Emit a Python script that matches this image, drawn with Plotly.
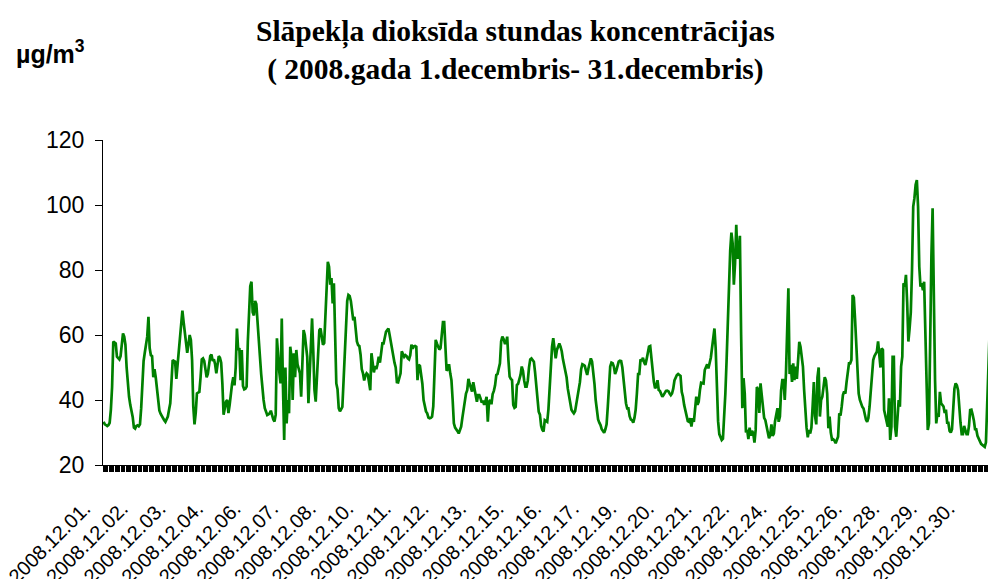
import plotly.graph_objects as go

# hourly NO2 concentrations, µg/m3 (one list per day)
dec01 = [33.3, 32.5, 32.3, 32.0, 32.3, 33.0, 37.0, 44.0, 58.0, 57.8, 57.4, 53.3, 52.8, 52.5, 53.5, 57.5, 60.5, 59.5, 57.0, 50.0, 45.0, 41.0, 38.5, 36.5]
dec02 = [34.8, 31.5, 31.2, 32.0, 32.2, 31.9, 32.5, 37.5, 45.0, 52.0, 54.6, 56.5, 59.5, 65.6, 56.0, 53.8, 53.5, 47.0, 49.5, 47.0, 43.5, 40.0, 36.8, 35.8]
dec03 = [35.0, 34.4, 33.8, 33.3, 34.0, 34.9, 37.0, 39.0, 45.5, 52.3, 52.0, 51.8, 46.5, 50.5, 54.8, 59.5, 64.5, 67.5, 64.0, 60.5, 58.0, 54.5, 57.0, 60.0]
dec04 = [58.5, 52.3, 38.0, 32.5, 36.0, 42.0, 42.3, 42.5, 47.0, 52.5, 52.8, 52.0, 49.5, 47.0, 48.0, 50.5, 53.5, 54.0, 52.0, 52.5, 51.0, 48.2, 50.5, 53.5]
dec05 = [53.0, 51.5, 45.0, 35.5, 37.5, 39.5, 40.0, 36.0, 38.5, 42.5, 45.0, 47.0, 44.5, 50.0, 62.0, 55.5, 56.0, 46.1, 55.4, 44.3, 43.3, 43.5, 44.1, 58.0]
dec06 = [68.0, 75.0, 76.4, 67.0, 66.0, 70.5, 69.5, 65.0, 59.0, 53.3, 48.0, 43.0, 40.0, 37.5, 36.5, 35.4, 35.6, 35.9, 36.7, 35.0, 34.0, 33.4, 35.5, 59.0]
dec07 = [53.0, 48.5, 45.1, 65.1, 44.1, 27.7, 50.0, 32.8, 40.0, 35.9, 56.4, 53.3, 40.0, 54.4, 47.0, 55.4, 51.0, 49.5, 48.2, 41.0, 54.4, 61.5, 60.0, 57.0]
dec08 = [53.3, 39.0, 47.5, 56.0, 65.1, 55.0, 43.0, 39.5, 48.2, 55.0, 61.5, 62.0, 60.0, 57.0, 57.5, 65.0, 76.0, 82.5, 81.0, 75.5, 77.5, 69.7, 75.9, 61.5]
dec09 = [45.1, 43.3, 37.5, 36.5, 37.4, 37.9, 46.0, 53.5, 65.0, 70.5, 72.3, 72.0, 70.5, 68.0, 64.5, 65.6, 62.0, 58.0, 56.9, 56.6, 54.0, 49.5, 48.2, 46.0]
dec10 = [47.5, 48.2, 47.8, 45.5, 43.0, 54.4, 51.0, 48.5, 50.5, 49.5, 51.0, 53.3, 51.5, 54.5, 57.4, 57.4, 59.5, 61.0, 61.5, 62.0, 60.0, 57.5, 55.4, 52.5]
dec11 = [51.5, 50.0, 45.5, 45.4, 46.5, 48.2, 55.0, 54.0, 53.3, 53.8, 53.5, 52.8, 52.5, 53.8, 57.0, 55.8, 56.5, 56.6, 56.4, 46.1, 50.8, 50.5, 48.0, 45.0]
dec12 = [40.0, 37.5, 36.5, 35.9, 34.6, 34.4, 34.5, 34.9, 38.0, 48.2, 58.5, 57.4, 56.5, 55.5, 56.0, 60.0, 64.0, 64.0, 58.0, 49.0, 49.5, 51.0, 48.2, 46.1]
dec13 = [40.0, 32.8, 31.5, 30.7, 30.4, 29.7, 30.8, 31.8, 34.5, 37.5, 40.0, 42.0, 43.0, 46.5, 45.0, 43.3, 42.6, 45.5, 43.5, 41.0, 39.5, 41.5, 41.5, 40.5]
dec14 = [39.2, 39.8, 38.5, 39.5, 41.0, 33.3, 39.5, 40.0, 38.7, 41.8, 42.8, 44.5, 47.7, 48.0, 49.5, 51.3, 58.0, 59.5, 58.8, 57.5, 57.5, 59.5, 52.3, 47.2]
dec15 = [46.5, 46.1, 38.5, 37.6, 37.9, 44.6, 45.0, 46.5, 47.7, 50.3, 49.0, 46.0, 44.1, 44.1, 46.0, 50.0, 52.5, 52.8, 52.3, 51.8, 48.5, 44.5, 40.0, 36.4]
dec16 = [35.5, 32.0, 30.8, 30.3, 33.8, 33.5, 33.3, 37.0, 45.0, 53.0, 56.4, 59.0, 56.4, 52.8, 55.4, 56.5, 57.4, 56.4, 55.0, 52.5, 50.5, 49.2, 47.0, 43.5]
dec17 = [41.0, 38.0, 37.0, 36.4, 35.9, 36.5, 38.5, 40.5, 43.0, 45.5, 49.5, 51.0, 50.8, 50.5, 49.0, 47.7, 49.7, 51.5, 52.8, 51.8, 49.0, 45.0, 40.0, 37.0]
dec18 = [34.0, 33.0, 32.3, 31.0, 30.5, 29.9, 31.0, 32.5, 38.0, 45.0, 50.3, 51.5, 51.3, 50.3, 48.0, 49.0, 50.5, 51.8, 52.1, 52.0, 50.0, 46.0, 42.0, 39.0]
dec19 = [37.4, 37.4, 35.0, 34.0, 33.8, 33.0, 34.5, 37.0, 42.0, 48.0, 48.0, 52.5, 52.0, 53.0, 51.5, 50.8, 52.5, 55.0, 56.4, 56.6, 52.0, 47.5, 45.6, 43.6]
dec20 = [44.1, 46.1, 43.1, 42.8, 42.0, 41.0, 41.5, 42.3, 42.8, 42.9, 42.7, 42.0, 41.5, 42.0, 43.5, 46.0, 47.0, 47.7, 48.0, 47.8, 47.4, 42.5, 41.0, 38.5]
dec21 = [36.9, 35.0, 33.5, 33.3, 34.4, 31.8, 34.4, 33.3, 38.5, 41.0, 38.5, 39.5, 43.0, 45.3, 45.2, 45.1, 49.2, 50.3, 51.0, 49.7, 51.5, 53.0, 56.0, 58.5]
dec22 = [62.0, 56.0, 44.0, 33.5, 29.5, 28.3, 27.7, 28.1, 34.0, 42.0, 52.0, 66.0, 76.0, 86.0, 91.5, 88.2, 75.5, 82.0, 93.9, 83.5, 84.5, 90.5, 60.0, 37.5]
dec23 = [46.7, 42.0, 30.0, 30.8, 28.0, 31.5, 29.0, 30.5, 29.8, 26.9, 30.8, 44.0, 43.3, 36.0, 45.1, 42.0, 37.0, 34.5, 33.8, 31.5, 29.5, 28.2, 29.2, 32.5]
dec24 = [29.0, 29.7, 33.5, 35.9, 37.5, 33.3, 34.9, 43.0, 46.1, 46.1, 40.0, 48.2, 60.5, 74.4, 48.0, 50.8, 45.6, 51.3, 46.1, 50.3, 46.5, 54.4, 57.9, 56.4]
dec25 = [53.8, 50.3, 43.0, 35.0, 31.5, 28.5, 30.8, 29.7, 31.5, 38.0, 45.5, 35.0, 32.5, 47.0, 50.0, 34.9, 40.0, 41.0, 44.0, 47.0, 46.0, 42.0, 31.3, 34.9]
dec26 = [30.0, 27.8, 27.9, 27.5, 26.7, 27.5, 28.7, 35.9, 35.2, 38.0, 41.5, 42.6, 42.0, 45.5, 49.5, 51.3, 51.3, 52.3, 72.3, 71.5, 65.0, 57.0, 50.0, 42.0]
dec27 = [40.0, 38.5, 37.9, 37.4, 35.5, 34.0, 33.3, 34.5, 38.0, 44.0, 47.2, 52.3, 53.5, 54.4, 54.9, 58.0, 54.4, 50.0, 55.9, 55.4, 36.9, 34.8, 32.8, 31.8]
dec28 = [40.5, 27.7, 31.8, 53.3, 53.3, 31.8, 28.7, 36.0, 40.0, 37.9, 50.3, 53.3, 75.9, 74.9, 78.5, 70.0, 58.0, 62.0, 67.0, 80.0, 99.5, 102.1, 106.2, 107.7]
dec29 = [99.5, 81.0, 74.9, 75.9, 73.8, 76.4, 62.0, 49.2, 30.8, 32.8, 64.6, 84.1, 99.0, 70.0, 46.2, 32.8, 35.9, 34.8, 42.5, 39.0, 38.5, 38.0, 36.0, 37.0]
dec30 = [33.0, 33.0, 30.5, 30.0, 31.0, 36.0, 43.5, 45.1, 44.5, 43.0, 36.5, 33.0, 29.5, 29.5, 32.0, 30.5, 29.5, 29.5, 32.0, 36.9, 37.0, 35.5, 33.8, 31.0]
# the source image is cropped on the right, only the first hours of 31 Dec are visible
dec31 = [31.0, 29.0, 28.0, 27.0, 26.5, 26.2, 25.8, 25.6, 27.0, 38.0, 52.3, 60.5, 71.8, 72.8, 68.7, 61.5, 72.0, 77.0]

tick_labels = [
    "2008.12.01.", "2008.12.02.", "2008.12.03.", "2008.12.04.", "2008.12.06.",
    "2008.12.07.", "2008.12.08.", "2008.12.10.", "2008.12.11.", "2008.12.12.",
    "2008.12.13.", "2008.12.15.", "2008.12.16.", "2008.12.17.", "2008.12.19.",
    "2008.12.20.", "2008.12.21.", "2008.12.22.", "2008.12.24.", "2008.12.25.",
    "2008.12.26.", "2008.12.28.", "2008.12.29.", "2008.12.30.",
]
LABEL_STEP = 31  # a date label every 31 hours, like the original category axis

days = [dec01, dec02, dec03, dec04, dec05, dec06, dec07, dec08, dec09, dec10,
        dec11, dec12, dec13, dec14, dec15, dec16, dec17, dec18, dec19, dec20,
        dec21, dec22, dec23, dec24, dec25, dec26, dec27, dec28, dec29, dec30, dec31]
values = [v for day in days for v in day]
hours = list(range(len(values)))

fig = go.Figure()
fig.add_trace(
    go.Scatter(
        x=hours,
        y=values,
        mode="lines",
        line=dict(color="#008000", width=2.7),
        showlegend=False,
        hoverinfo="y",
    )
)

# the page body adds an 8px offset, so the figure is a bit smaller than the
# window and the plot box runs to the right edge like the cropped original
fig.update_layout(
    width=988,
    height=571,
    margin=dict(l=95, r=0, t=132, b=114),
    paper_bgcolor="white",
    plot_bgcolor="white",
    font=dict(family="Liberation Sans, Arial, sans-serif", color="black"),
    annotations=[
        dict(
            text="<b>Slāpekļa dioksīda stundas koncentrācijas<br>( 2008.gada 1.decembris- 31.decembris)</b>",
            xref="paper",
            yref="paper",
            x=0.4614,
            y=1.39,
            xanchor="center",
            yanchor="top",
            showarrow=False,
            font=dict(family="Liberation Serif, Times New Roman, serif", size=29.5, color="black"),
        ),
        dict(
            text="<b>µg/m<sup>3</sup></b>",
            xref="paper",
            yref="paper",
            x=-0.059,
            y=1.27,
            xanchor="center",
            yanchor="middle",
            showarrow=False,
            font=dict(size=25, color="black"),
        ),
    ],
)

fig.update_xaxes(
    range=[-0.5, 736.3],
    automargin=False,
    tickmode="array",
    tickvals=[i * LABEL_STEP for i in range(len(tick_labels))],
    ticktext=tick_labels,
    tickangle=-45,
    ticks="",
    ticklabelstandoff=23,
    ticklabelshift=-19,
    ticklabeloverflow="allow",
    tickfont=dict(size=20),
    showgrid=False,
    zeroline=False,
    showline=True,
    linecolor="black",
    linewidth=1,
    minor=dict(
        tickmode="linear",
        tick0=-0.5,
        dtick=1,
        ticks="outside",
        ticklen=6,
        tickwidth=1,
        tickcolor="black",
        showgrid=False,
    ),
)
fig.update_yaxes(
    range=[20, 120],
    automargin=False,
    tickvals=[20, 40, 60, 80, 100, 120],
    ticks="outside",
    ticklen=7,
    tickcolor="black",
    ticklabelstandoff=6,
    tickfont=dict(size=23),
    showgrid=False,
    zeroline=False,
    showline=True,
    linecolor="black",
    linewidth=1,
)

fig.write_html("out.html")
